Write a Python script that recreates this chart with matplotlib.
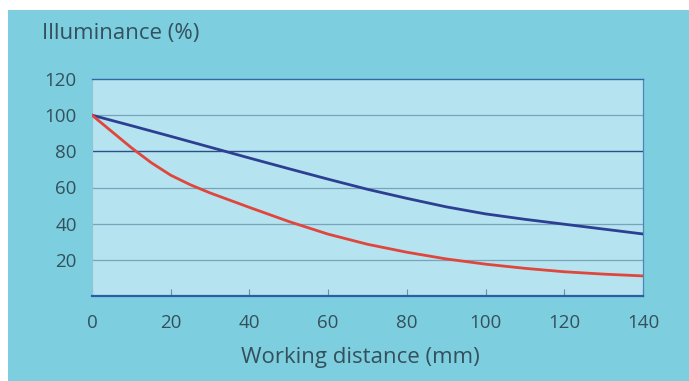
import matplotlib
matplotlib.use("Agg")
import matplotlib.pyplot as plt

# Illuminance vs working distance for two light sources
dist_blue = [0, 10, 20, 30, 40, 50, 60, 70, 80, 90, 100, 110, 120, 130, 140]
illum_blue = [100, 94.2, 88.3, 82.3, 76.3, 70.4, 64.6, 59.0, 54.0, 49.3, 45.4, 42.4, 39.7, 37.0, 34.3]

dist_red = [0, 5, 10, 15, 20, 25, 30, 40, 50, 60, 70, 80, 90, 100, 110, 120, 130, 140]
illum_red = [100, 91, 82, 73.8, 66.8, 61.5, 57, 49, 41.2, 34.2, 28.6, 24.2, 20.5, 17.6, 15.3, 13.4, 12.1, 11.1]

x_ticks = [0, 20, 40, 60, 80, 100, 120, 140]
y_ticks = [20, 40, 60, 80, 100, 120]

W, H = 689, 381
fig = plt.figure(figsize=(W / 100, H / 100), dpi=100)
fig.patch.set_facecolor("white")

outer = "#7dcfe0"
inner = "#b5e3ef"
text_c = "#34505c"
font = "Open Sans"

# teal panel behind the chart
bg = fig.add_axes([8 / W, 0, 1 - 8 / W, 1 - 10 / H])
bg.set_facecolor(outer)
bg.set_xticks([])
bg.set_yticks([])
for s in bg.spines.values():
    s.set_visible(False)

left, right, top, bottom = 92, 643, 79, 296
ax = fig.add_axes([left / W, 1 - bottom / H, (right - left) / W, (bottom - top) / H])
ax.set_facecolor(inner)
ax.set_xlim(0, 140)
ax.set_ylim(0, 120)

for y in [20, 40, 60, 100]:
    ax.axhline(y, color="#7aa3b8", lw=0.9, zorder=1)
ax.axhline(80, color="#2b4f86", lw=1.0, zorder=1)

ax.plot(dist_blue, illum_blue, color="#2c3f93", lw=2.0, zorder=3, solid_joinstyle="round")
ax.plot(dist_red, illum_red, color="#e0463c", lw=2.0, zorder=3, solid_joinstyle="round")

ax.spines["top"].set_color("#3566a8")
ax.spines["top"].set_linewidth(1.0)
ax.spines["bottom"].set_color("#2b5ea4")
ax.spines["bottom"].set_linewidth(1.6)
ax.spines["right"].set_color("#4a86bb")
ax.spines["right"].set_linewidth(0.9)
ax.spines["left"].set_color("#8fc3d6")
ax.spines["left"].set_linewidth(0.8)

ax.set_xticks(x_ticks)
ax.set_yticks(y_ticks)
ax.tick_params(axis="x", direction="in", length=5, width=0.8, color="#6e8fa0",
               pad=13, labelsize=13.5, labelcolor=text_c)
ax.tick_params(axis="y", length=0, pad=11, labelsize=13.5, labelcolor=text_c)
for lab in ax.get_xticklabels() + ax.get_yticklabels():
    lab.set_fontfamily(font)

fig.text(360 / W, 1 - 357 / H, "Working distance (mm)", fontsize=16, color=text_c,
         family=font, ha="center", va="center")
fig.text(42 / W, 1 - 33 / H, "Illuminance (%)", fontsize=16, color=text_c,
         family=font, ha="left", va="center")

fig.savefig("out.png", dpi=100, facecolor=fig.get_facecolor())
